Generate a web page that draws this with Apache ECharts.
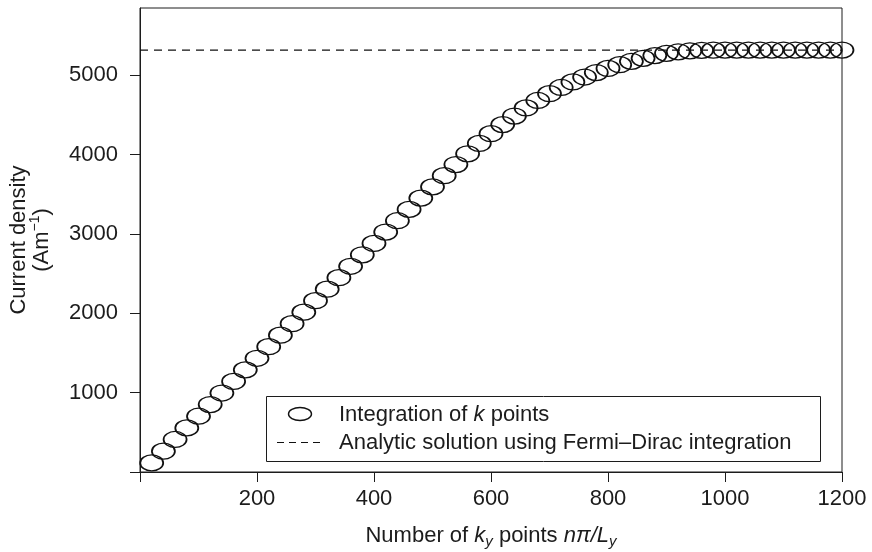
<!DOCTYPE html>
<html>
<head>
<meta charset="utf-8">
<script src="https://cdn.jsdelivr.net/npm/echarts@6/dist/echarts.min.js"></script>
<style>html,body{margin:0;padding:0;background:#fff}#c{width:872px;height:552px}</style>
</head>
<body>
<div id="c"></div>
<script>
// Data
const kPoints = [20,40,60,80,100,120,140,160,180,200,220,240,260,280,300,320,340,360,380,400,
  420,440,460,480,500,520,540,560,580,600,620,640,660,680,700,720,740,760,780,800,
  820,840,860,880,900,920,940,960,980,1000,1020,1040,1060,1080,1100,1120,1140,1160,1180,1200];
const currentDensity = [115,262,410,556,703,850,996,1142,1288,1434,1580,1725,1870,2015,2160,2305,2450,2594,2738,2882,
  3025,3168,3311,3453,3595,3736,3876,4012,4142,4265,4380,4488,4590,4684,4770,4848,4918,4980,5036,5088,
  5135,5178,5216,5250,5278,5298,5310,5316,5318,5320,5320,5320,5320,5320,5320,5320,5320,5320,5320,5320];
const analyticX = [0, 1200];
const analyticValue = 5320;
const xTicks = [0,200,400,600,800,1000,1200];
const xTickLabels = [200,400,600,800,1000,1200];
const yTicks = [0,1000,2000,3000,4000,5000];
const yTickLabels = [1000,2000,3000,4000,5000];

const FONT = 'Liberation Sans';
const INK = '#1c1c1c';
const FS = 22;

const chart = echarts.init(document.getElementById('c'), null, {renderer: 'canvas'});
const ellipsePath = 'path://M0,1A1,1 0 1,1 2,1A1,1 0 1,1 0,1Z';

chart.setOption({
  animation: false,
  backgroundColor: '#fff',
  textStyle: {fontFamily: FONT, color: INK},
  grid: {left: 140, right: 30, top: 8, bottom: 80, show: true, borderColor: INK, borderWidth: 1,
    backgroundColor: 'transparent', containLabel: false, outerBoundsMode: 'none'},
  xAxis: {
    type: 'value', min: 0, max: 1200, interval: 200,
    axisLine: {show: true, lineStyle: {color: INK, width: 1}},
    axisTick: {show: true, length: 10, lineStyle: {color: INK, width: 1}, customValues: xTicks},
    axisLabel: {fontSize: FS, color: INK, fontFamily: FONT, margin: 16, customValues: xTickLabels,
      formatter: v => (v === 0 ? '' : String(v))},
    splitLine: {show: false},
    name: '{a|Number of }{i|k}{sub|y}{a| points }{i|nπ/L}{sub|y}',
    nameLocation: 'middle', nameGap: 50,
    nameTextStyle: {
      rich: {
        a: {fontSize: FS, fontFamily: FONT, color: INK},
        i: {fontSize: FS, fontFamily: FONT, fontStyle: 'italic', color: INK},
        sub: {fontSize: 15, fontFamily: FONT, fontStyle: 'italic', color: INK, padding: [12, 0, 0, 0]}
      }
    }
  },
  yAxis: {
    type: 'value', min: 0, max: 5850, interval: 1000,
    axisLine: {show: true, lineStyle: {color: INK, width: 1}},
    axisTick: {show: true, length: 10, lineStyle: {color: INK, width: 1}, customValues: yTicks},
    axisLabel: {fontSize: FS, color: INK, fontFamily: FONT, margin: 22, customValues: yTickLabels,
      formatter: v => (v === 0 || v % 1000 !== 0 ? '' : String(v))},
    splitLine: {show: false},
    name: '{a|Current density}\n{a|(Am}{sup|−1}{a|)}',
    nameLocation: 'middle', nameGap: 87, nameRotate: 90,
    nameTextStyle: {
      lineHeight: 23,
      rich: {
        a: {fontSize: FS, fontFamily: FONT, color: INK, lineHeight: 23},
        sup: {fontSize: 14, fontFamily: FONT, color: INK, padding: [0, 0, 12, 0], lineHeight: 23}
      }
    }
  },
  series: [
    {
      type: 'line', name: 'Analytic solution using Fermi–Dirac integration',
      data: analyticX.map(x => [x, analyticValue]),
      symbol: 'none', silent: true, z: 1,
      lineStyle: {color: '#111', width: 1.2, type: [8, 6]}
    },
    {
      type: 'scatter', name: 'Integration of k points',
      data: kPoints.map((x, i) => [x, currentDensity[i]]),
      symbol: ellipsePath, symbolSize: [23, 16], symbolKeepAspect: false,
      silent: true, z: 2,
      itemStyle: {color: 'rgba(0,0,0,0)', borderColor: '#111', borderWidth: 1.5, opacity: 1}
    }
  ],
  graphic: [
    {type: 'rect', z: 100, shape: {x: 266.5, y: 396.5, width: 554, height: 65},
      style: {fill: '#fff', stroke: INK, lineWidth: 1}},
    {type: 'ellipse', z: 101, shape: {cx: 300, cy: 414, rx: 11.5, ry: 6.5},
      style: {fill: 'none', stroke: '#111', lineWidth: 1.4}},
    {type: 'line', z: 101, shape: {x1: 277, y1: 442.5, x2: 322, y2: 442.5},
      style: {stroke: '#111', lineWidth: 1.1, lineDash: [7, 5]}},
    {type: 'text', z: 101, x: 339, y: 415,
      style: {text: '{a|Integration of }{i|k}{a| points}', verticalAlign: 'middle',
        rich: {a: {fontSize: FS, fontFamily: FONT, fill: INK}, i: {fontSize: FS, fontFamily: FONT, fontStyle: 'italic', fill: INK}}}},
    {type: 'text', z: 101, x: 339, y: 443,
      style: {text: 'Analytic solution using Fermi–Dirac integration', verticalAlign: 'middle',
        fontSize: FS, fontFamily: FONT, fill: INK}}
  ]
});
</script>
</body>
</html>
